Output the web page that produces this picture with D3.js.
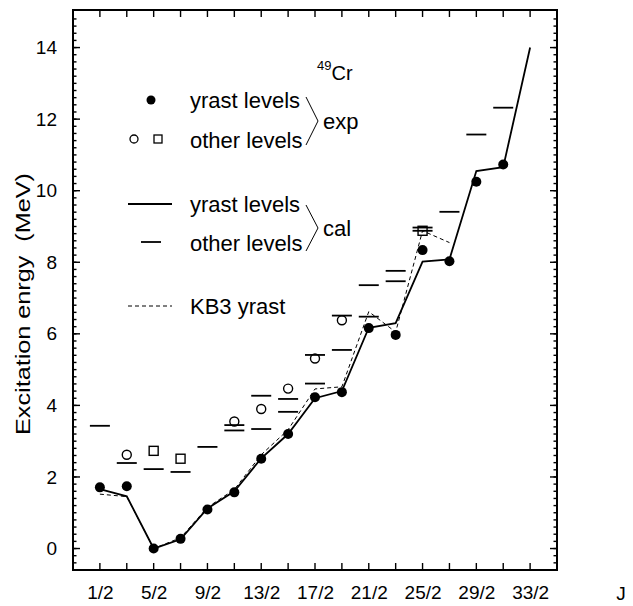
<html>
<head>
    <script src="https://d3js.org/d3.v7.min.js"></script>
    <style>
        body { margin: 0; background: #fff; }
        svg text { font-family: "Liberation Sans", Arial, sans-serif; fill: #000; }
    </style>
</head>
<body>
    <svg id="chart" width="633" height="606"></svg>
    <script>
        // spins are stored as 2J
        var spinTickLabels = ["1/2", "5/2", "9/2", "13/2", "17/2", "21/2", "25/2", "29/2", "33/2"];
        var spinTicks2J = [1, 3, 5, 7, 9, 11, 13, 15, 17, 19, 21, 23, 25, 27, 29, 31, 33];
        var energyTicks = [0, 2, 4, 6, 8, 10, 12, 14];

        // experiment, yrast (filled dots), 2J = 1..31
        var expYrast2J = [1, 3, 5, 7, 9, 11, 13, 15, 17, 19, 21, 23, 25, 27, 29, 31];
        var expYrastE = [1.71, 1.74, 0, 0.27, 1.09, 1.57, 2.51, 3.20, 4.23, 4.37, 6.16, 5.97, 8.34, 8.03, 10.25, 10.73];

        // experiment, other levels
        var expCircle2J = [3, 11, 13, 15, 17, 19];
        var expCircleE = [2.62, 3.55, 3.90, 4.47, 5.31, 6.38];
        var expSquare2J = [5, 7, 25];
        var expSquareE = [2.73, 2.51, 8.88];

        // calculation, yrast (solid line), 2J = 1..33
        var calYrast2J = [1, 3, 5, 7, 9, 11, 13, 15, 17, 19, 21, 23, 25, 27, 29, 31, 33];
        var calYrastE = [1.66, 1.46, 0, 0.26, 1.12, 1.60, 2.52, 3.20, 4.20, 4.40, 6.17, 6.30, 8.02, 8.08, 10.55, 10.66, 14.0];

        // calculation, other levels (short bars)
        var calOther2J = [1, 3, 5, 7, 9, 11, 11, 13, 13, 15, 15, 17, 17, 19, 19, 21, 21, 23, 23, 25, 25, 27, 29, 31];
        var calOtherE = [3.43, 2.39, 2.22, 2.14, 2.84, 3.45, 3.30, 4.27, 3.34, 4.18, 3.82, 5.41, 4.61, 6.51, 5.55, 6.48, 7.36, 7.76, 7.47, 8.97, 8.88, 9.41, 11.57, 12.32];

        // KB3 yrast (dashed), 2J = 1..27
        var kb3Yrast2J = [1, 3, 5, 7, 9, 11, 13, 15, 17, 19, 21, 23, 25, 27];
        var kb3YrastE = [1.52, 1.45, 0, 0.30, 1.15, 1.65, 2.62, 3.32, 4.46, 4.52, 6.62, 6.05, 8.88, 8.55];

        (function () {
            var mLeft = 73, mTop = 10, mRight = 557, mBottom = 570;
            var svg = d3.select("#chart");

            var x = d3.scaleLinear().domain([-1, 35]).range([mLeft, mRight]);
            var y = d3.scaleLinear().domain([-0.6, 15.05]).range([mBottom, mTop]);

            function zip(a, b) { return a.map(function (d, i) { return [d, b[i]]; }); }

            // frame as filled strips
            var frame = [
                [mLeft - 1, mTop - 1, mRight - mLeft + 2, 2],
                [mLeft - 1, mBottom - 1, mRight - mLeft + 2, 2],
                [mLeft - 1, mTop - 1, 2, mBottom - mTop + 2],
                [mRight - 1, mTop - 1, 2, mBottom - mTop + 2]
            ];
            svg.selectAll(".frame").data(frame).enter().append("rect")
                .attr("x", function (d) { return d[0]; }).attr("y", function (d) { return d[1]; })
                .attr("width", function (d) { return d[2]; }).attr("height", function (d) { return d[3]; })
                .attr("fill", "#000");

            // inward ticks, also filled strips
            var minorE = d3.range(-0.4, 15.0, 0.2);
            var yTickMarks = [];
            minorE.forEach(function (v) { yTickMarks.push([v, 3.5]); });
            energyTicks.forEach(function (v) { yTickMarks.push([v, 7]); });
            svg.selectAll(".ytl").data(yTickMarks).enter().append("rect")
                .attr("x", mLeft).attr("y", function (d) { return y(d[0]) - 0.7; })
                .attr("width", function (d) { return d[1]; }).attr("height", 1.4).attr("fill", "#000");
            svg.selectAll(".ytr").data(yTickMarks).enter().append("rect")
                .attr("x", function (d) { return mRight - d[1]; }).attr("y", function (d) { return y(d[0]) - 0.7; })
                .attr("width", function (d) { return d[1]; }).attr("height", 1.4).attr("fill", "#000");
            svg.selectAll(".xtb").data(spinTicks2J).enter().append("rect")
                .attr("x", function (d) { return x(d) - 0.7; }).attr("y", mBottom - 7)
                .attr("width", 1.4).attr("height", 7).attr("fill", "#000");
            svg.selectAll(".xtt").data(spinTicks2J).enter().append("rect")
                .attr("x", function (d) { return x(d) - 0.7; }).attr("y", mTop)
                .attr("width", 1.4).attr("height", 7).attr("fill", "#000");

            // tick labels from the axes
            svg.append("g").attr("transform", "translate(" + mLeft + ",0)")
                .call(d3.axisLeft(y).tickValues(energyTicks).tickSize(0).tickPadding(16).tickFormat(d3.format("d")))
                .selectAll("text").style("font-size", "19px");
            svg.append("g").attr("transform", "translate(0," + mBottom + ")")
                .call(d3.axisBottom(x).tickValues(spinTicks2J).tickSize(0).tickPadding(16)
                    .tickFormat(function (d) { return spinTickLabels.indexOf(d + "/2") >= 0 ? d + "/2" : ""; }))
                .selectAll("text").style("font-size", "19px");
            svg.selectAll(".domain").remove();
            svg.selectAll(".tick line").remove();

            svg.append("text").attr("x", 621).attr("y", 600).attr("text-anchor", "middle")
                .style("font-size", "19px").text("J");
            svg.append("text").attr("transform", "translate(30,304) rotate(-90)")
                .attr("text-anchor", "middle").style("font-size", "21px")
                .attr("textLength", 262).attr("lengthAdjust", "spacingAndGlyphs")
                .text("Excitation enrgy \u00a0(MeV)");

            // data
            var line = d3.line().x(function (d) { return x(d[0]); }).y(function (d) { return y(d[1]); });

            svg.append("path").datum(zip(kb3Yrast2J, kb3YrastE)).attr("d", line)
                .attr("fill", "none").attr("stroke", "#000").attr("stroke-width", 1).attr("stroke-dasharray", "4,3");
            svg.append("path").datum(zip(calYrast2J, calYrastE)).attr("d", line)
                .attr("fill", "none").attr("stroke", "#000").attr("stroke-width", 1.8);

            svg.selectAll(".bar").data(zip(calOther2J, calOtherE)).enter().append("line")
                .attr("x1", function (d) { return x(d[0]) - 10; })
                .attr("x2", function (d) { return x(d[0]) + 10; })
                .attr("y1", function (d) { return y(d[1]); })
                .attr("y2", function (d) { return y(d[1]); })
                .attr("stroke", "#000").attr("stroke-width", 1.8);

            svg.selectAll(".dot").data(zip(expYrast2J, expYrastE)).enter().append("circle")
                .attr("cx", function (d) { return x(d[0]); }).attr("cy", function (d) { return y(d[1]); })
                .attr("r", 5).attr("fill", "#000");
            svg.selectAll(".ring").data(zip(expCircle2J, expCircleE)).enter().append("circle")
                .attr("cx", function (d) { return x(d[0]); }).attr("cy", function (d) { return y(d[1]); })
                .attr("r", 4.5).attr("fill", "none").attr("stroke", "#000").attr("stroke-width", 1.4);
            svg.selectAll(".sq").data(zip(expSquare2J, expSquareE)).enter().append("rect")
                .attr("x", function (d) { return x(d[0]) - 4.5; }).attr("y", function (d) { return y(d[1]) - 4.5; })
                .attr("width", 9).attr("height", 9).attr("fill", "none").attr("stroke", "#000").attr("stroke-width", 1.4);

            // legend
            var lg = svg.append("g");
            var fs = "22px";
            var t = lg.append("text").attr("x", 317).attr("y", 80).style("font-size", "20px");
            t.append("tspan").attr("dy", -10).style("font-size", "13px").text("49");
            t.append("tspan").attr("dy", 10).text("Cr");

            lg.append("circle").attr("cx", 151).attr("cy", 100).attr("r", 4.5).attr("fill", "#000");
            lg.append("circle").attr("cx", 134).attr("cy", 139).attr("r", 4).attr("fill", "none").attr("stroke", "#000").attr("stroke-width", 1.3);
            lg.append("rect").attr("x", 154).attr("y", 135).attr("width", 8).attr("height", 8).attr("fill", "none").attr("stroke", "#000").attr("stroke-width", 1.3);
            lg.append("line").attr("x1", 128).attr("x2", 172).attr("y1", 204).attr("y2", 204).attr("stroke", "#000").attr("stroke-width", 1.8);
            lg.append("line").attr("x1", 141).attr("x2", 161).attr("y1", 242).attr("y2", 242).attr("stroke", "#000").attr("stroke-width", 1.8);
            lg.append("line").attr("x1", 128).attr("x2", 172).attr("y1", 306).attr("y2", 306).attr("stroke", "#000").attr("stroke-width", 1).attr("stroke-dasharray", "4,3");

            var labels = [["yrast levels", 108], ["other levels", 148], ["yrast levels", 212], ["other levels", 251], ["KB3 yrast", 314]];
            labels.forEach(function (l) {
                lg.append("text").attr("x", 190).attr("y", l[1]).style("font-size", fs).text(l[0]);
            });
            [[97, 145, "exp"], [205, 251, "cal"]].forEach(function (b) {
                lg.append("polyline")
                    .attr("points", [[306, b[0]], [318, (b[0] + b[1]) / 2], [306, b[1]]].join(" "))
                    .attr("fill", "none").attr("stroke", "#000").attr("stroke-width", 1);
                lg.append("text").attr("x", 323).attr("y", (b[0] + b[1]) / 2 + 8).style("font-size", fs).text(b[2]);
            });
        })();
    </script>
</body>
</html>
